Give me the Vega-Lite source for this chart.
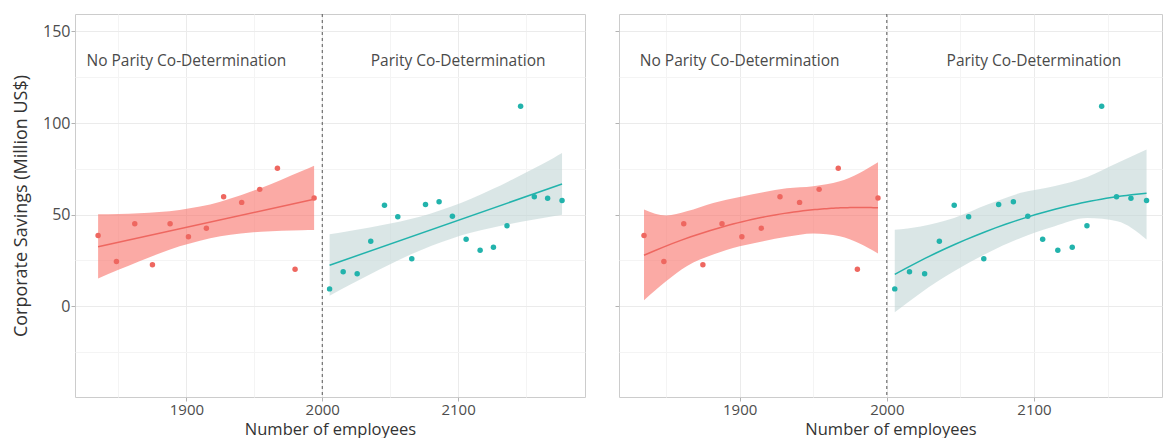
{
  "$schema": "https://vega.github.io/schema/vega-lite/v6.json",
  "padding": {"left": 12, "top": 13, "right": 0, "bottom": 0},
  "background": "white",
  "spacing": 34,
  "bounds": "flush",
  "datasets": {
    "firms": [
      {"x": 1835.0, "y": 38.6, "group": "No Parity"},
      {"x": 1848.5, "y": 24.5, "group": "No Parity"},
      {"x": 1862.0, "y": 45.0, "group": "No Parity"},
      {"x": 1875.0, "y": 22.7, "group": "No Parity"},
      {"x": 1888.0, "y": 45.0, "group": "No Parity"},
      {"x": 1901.5, "y": 37.9, "group": "No Parity"},
      {"x": 1914.7, "y": 42.6, "group": "No Parity"},
      {"x": 1927.4, "y": 59.8, "group": "No Parity"},
      {"x": 1940.7, "y": 56.7, "group": "No Parity"},
      {"x": 1954.0, "y": 63.8, "group": "No Parity"},
      {"x": 1967.0, "y": 75.3, "group": "No Parity"},
      {"x": 1980.0, "y": 20.2, "group": "No Parity"},
      {"x": 1994.0, "y": 59.1, "group": "No Parity"},
      {"x": 2005.4, "y": 9.5, "group": "Parity"},
      {"x": 2015.4, "y": 18.8, "group": "Parity"},
      {"x": 2025.7, "y": 17.7, "group": "Parity"},
      {"x": 2035.7, "y": 35.5, "group": "Parity"},
      {"x": 2045.8, "y": 55.1, "group": "Parity"},
      {"x": 2055.6, "y": 48.8, "group": "Parity"},
      {"x": 2065.9, "y": 25.9, "group": "Parity"},
      {"x": 2076.0, "y": 55.6, "group": "Parity"},
      {"x": 2086.0, "y": 57.1, "group": "Parity"},
      {"x": 2095.8, "y": 49.1, "group": "Parity"},
      {"x": 2105.9, "y": 36.6, "group": "Parity"},
      {"x": 2116.2, "y": 30.6, "group": "Parity"},
      {"x": 2126.0, "y": 32.2, "group": "Parity"},
      {"x": 2136.0, "y": 44.0, "group": "Parity"},
      {"x": 2146.0, "y": 109.1, "group": "Parity"},
      {"x": 2156.1, "y": 59.8, "group": "Parity"},
      {"x": 2165.9, "y": 58.9, "group": "Parity"},
      {"x": 2176.5, "y": 57.7, "group": "Parity"}
    ],
    "bandLinear": [
      {"x": 1835, "lo": 15.1, "hi": 50.2, "group": "No Parity"},
      {"x": 1850, "lo": 19.9, "hi": 50.4, "group": "No Parity"},
      {"x": 1865, "lo": 24.5, "hi": 50.8, "group": "No Parity"},
      {"x": 1880, "lo": 28.8, "hi": 51.5, "group": "No Parity"},
      {"x": 1895, "lo": 32.7, "hi": 52.6, "group": "No Parity"},
      {"x": 1910, "lo": 35.8, "hi": 54.4, "group": "No Parity"},
      {"x": 1925, "lo": 38.2, "hi": 57.1, "group": "No Parity"},
      {"x": 1940, "lo": 39.7, "hi": 60.6, "group": "No Parity"},
      {"x": 1955, "lo": 40.7, "hi": 64.6, "group": "No Parity"},
      {"x": 1970, "lo": 41.2, "hi": 69.1, "group": "No Parity"},
      {"x": 1985, "lo": 41.5, "hi": 73.8, "group": "No Parity"},
      {"x": 1994, "lo": 41.6, "hi": 76.7, "group": "No Parity"},
      {"x": 2005.4, "lo": 5.7, "hi": 39.3, "group": "Parity"},
      {"x": 2020, "lo": 11.6, "hi": 41.1, "group": "Parity"},
      {"x": 2035, "lo": 17.4, "hi": 43.0, "group": "Parity"},
      {"x": 2050, "lo": 23.0, "hi": 45.2, "group": "Parity"},
      {"x": 2065, "lo": 28.2, "hi": 47.7, "group": "Parity"},
      {"x": 2080, "lo": 32.9, "hi": 50.7, "group": "Parity"},
      {"x": 2095, "lo": 36.9, "hi": 54.4, "group": "Parity"},
      {"x": 2110, "lo": 40.2, "hi": 58.8, "group": "Parity"},
      {"x": 2125, "lo": 42.9, "hi": 63.8, "group": "Parity"},
      {"x": 2140, "lo": 45.2, "hi": 69.2, "group": "Parity"},
      {"x": 2155, "lo": 47.2, "hi": 74.9, "group": "Parity"},
      {"x": 2170, "lo": 49.1, "hi": 80.8, "group": "Parity"},
      {"x": 2176.5, "lo": 49.9, "hi": 83.6, "group": "Parity"}
    ],
    "bandQuadratic": [
      {"x": 1835, "lo": 3.3, "hi": 52.8, "group": "No Parity"},
      {"x": 1850, "lo": 13.6, "hi": 49.5, "group": "No Parity"},
      {"x": 1864, "lo": 21.8, "hi": 51.8, "group": "No Parity"},
      {"x": 1882, "lo": 28.2, "hi": 56.4, "group": "No Parity"},
      {"x": 1900, "lo": 32.7, "hi": 59.7, "group": "No Parity"},
      {"x": 1916, "lo": 35.5, "hi": 62.2, "group": "No Parity"},
      {"x": 1932, "lo": 37.9, "hi": 64.4, "group": "No Parity"},
      {"x": 1950, "lo": 39.7, "hi": 65.5, "group": "No Parity"},
      {"x": 1968, "lo": 38.2, "hi": 68.2, "group": "No Parity"},
      {"x": 1981.5, "lo": 34.2, "hi": 72.8, "group": "No Parity"},
      {"x": 1994, "lo": 28.8, "hi": 78.6, "group": "No Parity"},
      {"x": 2005.4, "lo": -3.3, "hi": 41.8, "group": "Parity"},
      {"x": 2023, "lo": 7.3, "hi": 43.6, "group": "Parity"},
      {"x": 2045.7, "lo": 19.1, "hi": 48.2, "group": "Parity"},
      {"x": 2068.4, "lo": 29.1, "hi": 55.5, "group": "Parity"},
      {"x": 2091, "lo": 37.3, "hi": 61.9, "group": "Parity"},
      {"x": 2113.6, "lo": 43.6, "hi": 65.5, "group": "Parity"},
      {"x": 2136.2, "lo": 48.2, "hi": 70.6, "group": "Parity"},
      {"x": 2156.6, "lo": 46.4, "hi": 78.2, "group": "Parity"},
      {"x": 2176.5, "lo": 36.4, "hi": 85.5, "group": "Parity"}
    ]
  },
  "config": {
    "font": "Open Sans",
    "view": {"stroke": "#CCCCCC", "strokeWidth": 1},
    "axis": {
      "domain": false,
      "tickColor": "#B3B3B3",
      "tickSize": 4,
      "labelColor": "#4D4D4D",
      "labelFont": "Open Sans",
      "labelFontSize": 15,
      "labelPadding": 1,
      "titleColor": "#333333",
      "titleFont": "Open Sans",
      "titleFontWeight": "normal",
      "titleFontSize": 16.5,
      "gridWidth": 1
    }
  },
  "hconcat": [
    {
      "width": 510,
      "height": 383,
      "layer": [
        {
          "data": {"name": "bandLinear"},
          "mark": {"type": "area", "interpolate": "monotone", "opacity": 0.62},
          "encoding": {
            "x": {
              "field": "x", "type": "quantitative",
              "scale": {"domain": [1818, 2193.4], "nice": false, "zero": false},
              "axis": {
                "title": "Number of employees",
                "values": [1850, 1900, 1950, 2000, 2050, 2100, 2150],
                "format": "d",
                "labelExpr": "datum.value % 100 === 0 ? datum.label : ''",
                "tickOpacity": {"condition": {"test": "datum.value % 100 !== 0", "value": 0}, "value": 1},
                "gridColor": {"condition": {"test": "datum.value % 100 !== 0", "value": "#F4F4F4"}, "value": "#EBEBEB"},
                "titlePadding": 4
              }
            },
            "y": {
              "field": "lo", "type": "quantitative",
              "scale": {"domain": [-49.5, 159.5], "nice": false, "zero": false},
              "axis": {
                "title": "Corporate Savings (Million US$)",
                "titleFontSize": 18,
                "labelFontSize": 16,
                "values": [-25, 0, 25, 50, 75, 100, 125, 150],
                "labelExpr": "datum.value % 50 === 0 ? datum.label : ''",
                "tickOpacity": {"condition": {"test": "datum.value % 50 !== 0", "value": 0}, "value": 1},
                "gridColor": {"condition": {"test": "datum.value % 50 !== 0", "value": "#F4F4F4"}, "value": "#EBEBEB"},
                "titlePadding": 12
              }
            },
            "y2": {"field": "hi"},
            "detail": {"field": "group"},
            "fill": {
              "field": "group", "type": "nominal",
              "scale": {"domain": ["No Parity", "Parity"], "range": ["#F8766D", "#C3D6D6"]},
              "legend": null
            }
          }
        },
        {
          "data": {"name": "firms"},
          "transform": [
            {"regression": "y", "on": "x", "groupby": ["group"], "method": "linear"}
          ],
          "mark": {"type": "line", "strokeWidth": 1.5},
          "encoding": {
            "x": {"field": "x", "type": "quantitative"},
            "y": {"field": "y", "type": "quantitative"},
            "color": {
              "field": "group", "type": "nominal",
              "scale": {"domain": ["No Parity", "Parity"], "range": ["#EE6760", "#22B3AC"]},
              "legend": null
            }
          }
        },
        {
          "data": {"name": "firms"},
          "mark": {"type": "point", "filled": true, "size": 30, "opacity": 1},
          "encoding": {
            "x": {"field": "x", "type": "quantitative"},
            "y": {"field": "y", "type": "quantitative"},
            "color": {"field": "group", "type": "nominal", "legend": null}
          }
        },
        {
          "data": {"values": [{}]},
          "mark": {"type": "rule", "color": "#555555", "strokeDash": [3, 3], "strokeWidth": 1},
          "encoding": {"x": {"datum": 2000}}
        },
        {
          "data": {"values": [{}]},
          "mark": {"type": "text", "text": "No Parity Co-Determination", "fontSize": 15.5, "color": "#4A4A4A", "align": "center", "baseline": "middle"},
          "encoding": {"x": {"datum": 1900}, "y": {"datum": 134}}
        },
        {
          "data": {"values": [{}]},
          "mark": {"type": "text", "text": "Parity Co-Determination", "fontSize": 15.5, "color": "#4A4A4A", "align": "center", "baseline": "middle"},
          "encoding": {"x": {"datum": 2100}, "y": {"datum": 134}}
        }
      ]
    },
    {
      "width": 543,
      "height": 383,
      "layer": [
        {
          "data": {"name": "bandQuadratic"},
          "mark": {"type": "area", "interpolate": "monotone", "opacity": 0.62},
          "encoding": {
            "x": {
              "field": "x", "type": "quantitative",
              "scale": {"domain": [1818, 2187], "nice": false, "zero": false},
              "axis": {
                "title": "Number of employees",
                "values": [1850, 1900, 1950, 2000, 2050, 2100, 2150],
                "format": "d",
                "labelExpr": "datum.value % 100 === 0 ? datum.label : ''",
                "tickOpacity": {"condition": {"test": "datum.value % 100 !== 0", "value": 0}, "value": 1},
                "gridColor": {"condition": {"test": "datum.value % 100 !== 0", "value": "#F4F4F4"}, "value": "#EBEBEB"},
                "titlePadding": 4
              }
            },
            "y": {
              "field": "lo", "type": "quantitative",
              "scale": {"domain": [-49.5, 159.5], "nice": false, "zero": false},
              "axis": {
                "title": null,
                "labels": false,
                "values": [-25, 0, 25, 50, 75, 100, 125, 150],
                "tickOpacity": {"condition": {"test": "datum.value % 50 !== 0", "value": 0}, "value": 1},
                "gridColor": {"condition": {"test": "datum.value % 50 !== 0", "value": "#F4F4F4"}, "value": "#EBEBEB"}
              }
            },
            "y2": {"field": "hi"},
            "detail": {"field": "group"},
            "fill": {
              "field": "group", "type": "nominal",
              "scale": {"domain": ["No Parity", "Parity"], "range": ["#F8766D", "#C3D6D6"]},
              "legend": null
            }
          }
        },
        {
          "data": {"name": "firms"},
          "transform": [
            {"regression": "y", "on": "x", "groupby": ["group"], "method": "poly", "order": 2}
          ],
          "mark": {"type": "line", "strokeWidth": 1.5},
          "encoding": {
            "x": {"field": "x", "type": "quantitative"},
            "y": {"field": "y", "type": "quantitative"},
            "color": {
              "field": "group", "type": "nominal",
              "scale": {"domain": ["No Parity", "Parity"], "range": ["#EE6760", "#22B3AC"]},
              "legend": null
            }
          }
        },
        {
          "data": {"name": "firms"},
          "mark": {"type": "point", "filled": true, "size": 30, "opacity": 1},
          "encoding": {
            "x": {"field": "x", "type": "quantitative"},
            "y": {"field": "y", "type": "quantitative"},
            "color": {"field": "group", "type": "nominal", "legend": null}
          }
        },
        {
          "data": {"values": [{}]},
          "mark": {"type": "rule", "color": "#555555", "strokeDash": [3, 3], "strokeWidth": 1},
          "encoding": {"x": {"datum": 2000}}
        },
        {
          "data": {"values": [{}]},
          "mark": {"type": "text", "text": "No Parity Co-Determination", "fontSize": 15.5, "color": "#4A4A4A", "align": "center", "baseline": "middle"},
          "encoding": {"x": {"datum": 1900}, "y": {"datum": 134}}
        },
        {
          "data": {"values": [{}]},
          "mark": {"type": "text", "text": "Parity Co-Determination", "fontSize": 15.5, "color": "#4A4A4A", "align": "center", "baseline": "middle"},
          "encoding": {"x": {"datum": 2100}, "y": {"datum": 134}}
        }
      ]
    }
  ]
}
